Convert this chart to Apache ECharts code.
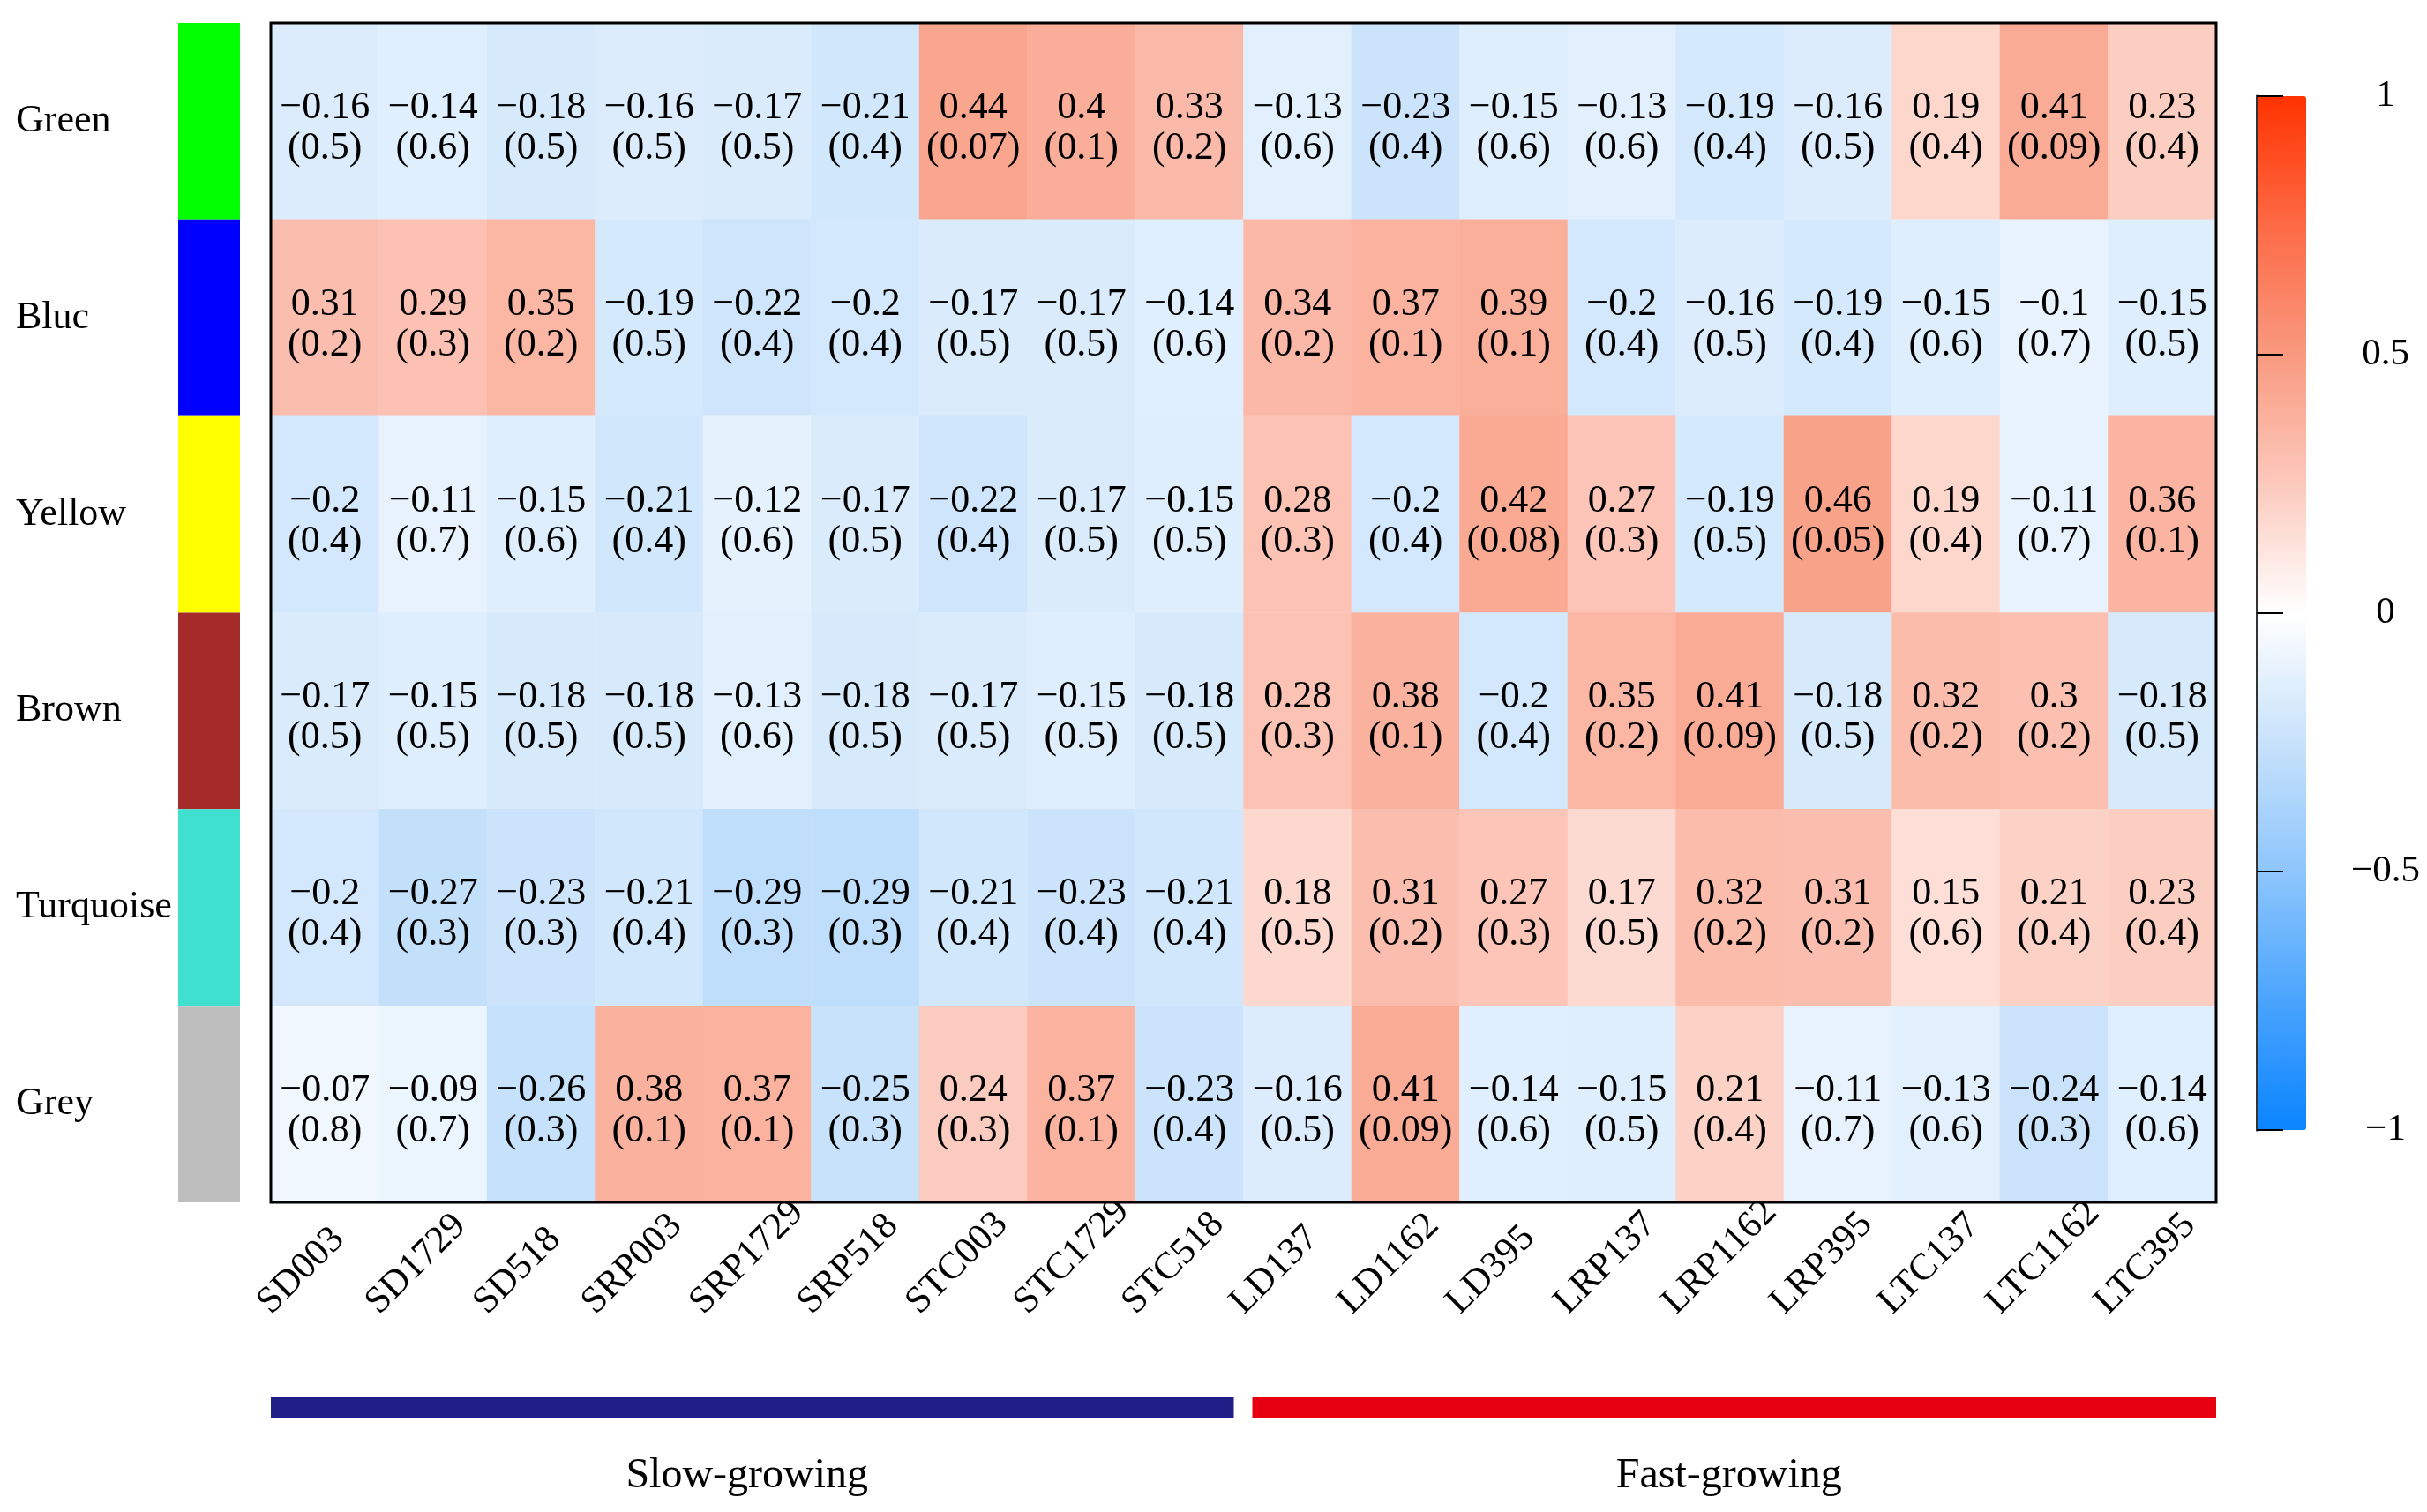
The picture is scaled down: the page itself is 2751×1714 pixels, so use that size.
<!DOCTYPE html>
<html>
<head>
<meta charset="utf-8">
<title>Module-trait correlation heatmap</title>
<script src="https://cdn.jsdelivr.net/npm/echarts@6.0.0/dist/echarts.min.js"></script>
<style>
  html, body { margin: 0; padding: 0; background: #fff; }
  #myChart { width: 2751px; height: 1714px; }
</style>
</head>
<body>
<div id="myChart"></div>
<script>
const samples = ['SD003', 'SD1729', 'SD518', 'SRP003', 'SRP1729', 'SRP518', 'STC003', 'STC1729', 'STC518',
  'LD137', 'LD1162', 'LD395', 'LRP137', 'LRP1162', 'LRP395', 'LTC137', 'LTC1162', 'LTC395']
const modules = ['Green', 'Bluc', 'Yellow', 'Brown', 'Turquoise', 'Grey']
const moduleColors = ['#00ff00', '#0000ff', '#ffff00', '#a52a2a', '#40e0d0', '#bebebe']

// correlation per module (rows) and sample (columns)
const corGreen = [-0.16, -0.14, -0.18, -0.16, -0.17, -0.21, 0.44, 0.4, 0.33, -0.13, -0.23, -0.15, -0.13, -0.19, -0.16, 0.19, 0.41, 0.23]
const corBluc = [0.31, 0.29, 0.35, -0.19, -0.22, -0.2, -0.17, -0.17, -0.14, 0.34, 0.37, 0.39, -0.2, -0.16, -0.19, -0.15, -0.1, -0.15]
const corYellow = [-0.2, -0.11, -0.15, -0.21, -0.12, -0.17, -0.22, -0.17, -0.15, 0.28, -0.2, 0.42, 0.27, -0.19, 0.46, 0.19, -0.11, 0.36]
const corBrown = [-0.17, -0.15, -0.18, -0.18, -0.13, -0.18, -0.17, -0.15, -0.18, 0.28, 0.38, -0.2, 0.35, 0.41, -0.18, 0.32, 0.3, -0.18]
const corTurquoise = [-0.2, -0.27, -0.23, -0.21, -0.29, -0.29, -0.21, -0.23, -0.21, 0.18, 0.31, 0.27, 0.17, 0.32, 0.31, 0.15, 0.21, 0.23]
const corGrey = [-0.07, -0.09, -0.26, 0.38, 0.37, -0.25, 0.24, 0.37, -0.23, -0.16, 0.41, -0.14, -0.15, 0.21, -0.11, -0.13, -0.24, -0.14]

// p values in brackets
const pGreen = [0.5, 0.6, 0.5, 0.5, 0.5, 0.4, 0.07, 0.1, 0.2, 0.6, 0.4, 0.6, 0.6, 0.4, 0.5, 0.4, 0.09, 0.4]
const pBluc = [0.2, 0.3, 0.2, 0.5, 0.4, 0.4, 0.5, 0.5, 0.6, 0.2, 0.1, 0.1, 0.4, 0.5, 0.4, 0.6, 0.7, 0.5]
const pYellow = [0.4, 0.7, 0.6, 0.4, 0.6, 0.5, 0.4, 0.5, 0.5, 0.3, 0.4, 0.08, 0.3, 0.5, 0.05, 0.4, 0.7, 0.1]
const pBrown = [0.5, 0.5, 0.5, 0.5, 0.6, 0.5, 0.5, 0.5, 0.5, 0.3, 0.1, 0.4, 0.2, 0.09, 0.5, 0.2, 0.2, 0.5]
const pTurquoise = [0.4, 0.3, 0.3, 0.4, 0.3, 0.3, 0.4, 0.4, 0.4, 0.5, 0.2, 0.3, 0.5, 0.2, 0.2, 0.6, 0.4, 0.4]
const pGrey = [0.8, 0.7, 0.3, 0.1, 0.1, 0.3, 0.3, 0.1, 0.4, 0.5, 0.09, 0.6, 0.5, 0.4, 0.7, 0.6, 0.3, 0.6]

const groupNames = ['Slow-growing', 'Fast-growing']
const groupStart = [0, 9]
const groupEnd = [8, 17]
const groupColors = ['#1f1f87', '#e60012']

const scaleTicks = [-1, -0.5, 0, 0.5, 1]

const corRows = [corGreen, corBluc, corYellow, corBrown, corTurquoise, corGrey]
const pRows = [pGreen, pBluc, pYellow, pBrown, pTurquoise, pGrey]

const heatData = []
corRows.forEach((row, y) => {
  row.forEach((v, x) => heatData.push([x, y, v, pRows[y][x]]))
})

const FONT = 'Liberation Serif'
const minus = v => String(v).replace('-', '\u2212')

const option = {
  animation: false,
  backgroundColor: '#fff',
  grid: [
    { left: 307, top: 26, width: 2205, height: 1337, show: true, z: 10,
      backgroundColor: 'transparent', borderColor: '#000', borderWidth: 3 },
    { left: 202, top: 26, width: 70, height: 1337 },
    { left: 307, top: 1584, width: 2205, height: 23 },
    { left: 2558, top: 109, width: 56, height: 1172 },
    // same width as the heatmap, shifted left: sample names start below-left of each column
    { left: 238, top: 26, width: 2205, height: 1337 }
  ],
  xAxis: [
    { type: 'category', gridIndex: 0, data: samples, show: false },
    { type: 'value', gridIndex: 1, min: 0, max: 1, show: false },
    { type: 'category', gridIndex: 2, data: samples, show: false },
    { type: 'value', gridIndex: 3, min: 0, max: 1, show: false },
    { type: 'category', gridIndex: 4, data: samples,
      axisLine: { show: false }, axisTick: { show: false }, splitLine: { show: false },
      axisLabel: { interval: 0, rotate: 45, margin: 120, align: 'left', verticalAlign: 'middle',
        fontFamily: FONT, fontSize: 43, color: '#000' } }
  ],
  yAxis: [
    { type: 'category', gridIndex: 0, data: modules, inverse: true, show: false },
    { type: 'category', gridIndex: 1, data: modules, inverse: true,
      axisLine: { show: false }, axisTick: { show: false },
      axisLabel: { align: 'left', margin: 184, fontFamily: FONT, fontSize: 44, color: '#000' } },
    { type: 'value', gridIndex: 2, min: 0, max: 1, show: false },
    { type: 'value', gridIndex: 3, min: -1, max: 1, interval: 0.5, position: 'right', z: 5,
      axisLine: { show: true, lineStyle: { color: '#000', width: 3 } },
      axisTick: { show: true, inside: false, length: 30, lineStyle: { color: '#000', width: 2 } },
      splitLine: { show: false },
      axisLabel: { margin: 90, align: 'center', fontFamily: FONT, fontSize: 43, color: '#000',
        formatter: v => scaleTicks.includes(v) ? minus(v) : '' } },
    { type: 'value', gridIndex: 3, min: -1, max: 1, position: 'left', z: 5,
      axisLine: { show: true, lineStyle: { color: '#333', width: 2 } },
      axisTick: { show: false }, axisLabel: { show: false }, splitLine: { show: false } },
    { type: 'value', gridIndex: 4, min: 0, max: 1, show: false }
  ],
  visualMap: {
    type: 'continuous',
    seriesIndex: 0,
    dimension: 2,
    min: -1,
    max: 1,
    calculable: false,
    orient: 'vertical',
    left: 2558,
    top: 109,
    padding: 0,
    itemWidth: 56,
    itemHeight: 1172,
    text: ['', ''],
    showLabel: false,
    inRange: {
      color: ['#0a84ff', '#4aa4fd', '#8ec6fc', '#c8e2fb', '#ffffff', '#fcc9bc', '#f99a80', '#fd6a45', '#ff3300']
    }
  },
  series: [
    {
      type: 'heatmap',
      xAxisIndex: 0,
      yAxisIndex: 0,
      data: heatData,
      label: {
        show: true,
        offset: [0, 8],
        fontFamily: FONT,
        fontSize: 44,
        lineHeight: 46,
        color: '#000',
        formatter: p => minus(p.data[2]) + '\n(' + p.data[3] + ')'
      },
      emphasis: { disabled: true }
    },
    {
      type: 'bar',
      xAxisIndex: 1,
      yAxisIndex: 1,
      barCategoryGap: 0,
      data: moduleColors.map(c => ({ value: 1, itemStyle: { color: c } })),
      silent: true
    },
    {
      type: 'custom',
      xAxisIndex: 2,
      yAxisIndex: 2,
      data: groupNames.map((n, i) => [groupStart[i], groupEnd[i], i]),
      renderItem: (params, api) => {
        const i = api.value(2)
        const bw = api.size([1, 0])[0]
        const a = api.coord([api.value(0), 1])
        const b = api.coord([api.value(1), 0])
        const x0 = a[0] - bw / 2 + (groupStart[i] > 0 ? 10 : 0)
        const x1 = b[0] + bw / 2 - (groupEnd[i] < samples.length - 1 ? 11 : 0)
        return {
          type: 'group',
          children: [
            { type: 'rect', shape: { x: x0, y: a[1], width: x1 - x0, height: b[1] - a[1] },
              style: { fill: groupColors[i] } },
            { type: 'text', x: (x0 + x1) / 2 - 6, y: b[1] + 66,
              style: { text: groupNames[i], fontFamily: FONT, fontSize: 48, fill: '#000',
                align: 'center', verticalAlign: 'middle' } }
          ]
        }
      }
    }
  ]
}

const myChart = echarts.init(document.getElementById('myChart'))
myChart.setOption(option)
</script>
</body>
</html>
